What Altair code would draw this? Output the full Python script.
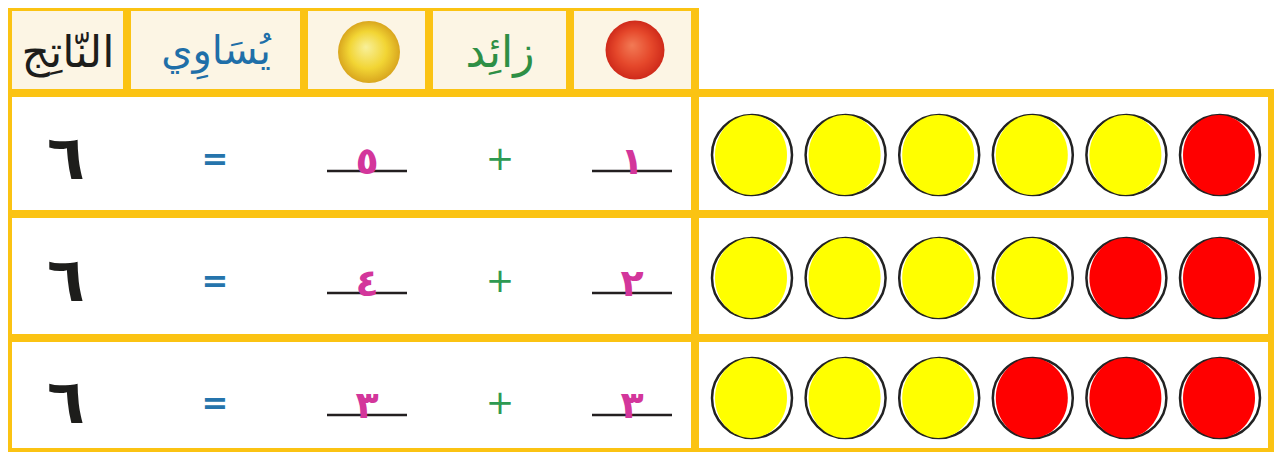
import altair as alt
import pandas as pd

# ---------------- data ----------------
header_words = ["النّاتِج", "يُسَاوِي", "زائِد"]
first_addends = [1, 2, 3]      # red counters
second_addends = [5, 4, 3]     # yellow counters
totals = [6, 6, 6]
counters_per_row = 6

AR = str.maketrans("0123456789", "٠١٢٣٤٥٦٧٨٩")
def ar(n):
    return str(n).translate(AR)

# ---------------- layout (page pixel units) ----------------
W, H = 1266, 444
XS = alt.Scale(domain=[8, 1274], nice=False, zero=False)
YS = alt.Scale(domain=[8, 452], nice=False, zero=False, reverse=True)

GOLD = "#FBC313"
CREAM = "#FCF5E4"
MAGENTA = "#D3369B"
BLUE = "#2574AC"
GREEN = "#2E9A52"

col_total, col_eq, col_a2, col_plus, col_a1 = 66, 215, 367, 500, 632
row_mid = [160, 282, 404]
row_line = [171, 293, 415]
circle_x0, circle_dx = 752, 93.6
circle_y = [155, 278, 398]

header_cells = [(12, 123), (131, 300), (308, 425), (433, 566), (574, 691)]
row_edges = [(97, 210), (218, 334), (342, 448)]


def X(f):
    return alt.X(f, type="quantitative", scale=XS, axis=None)


def Y(f):
    return alt.Y(f, type="quantitative", scale=YS, axis=None)


# gold frame
gold = pd.DataFrame([
    {"x": 0, "x2": 699, "y": 0, "y2": 97},
    {"x": 0, "x2": 1282, "y": 89, "y2": 460},
])
gold_layer = alt.Chart(gold).mark_rect(color=GOLD, clip=True).encode(
    x=X("x"), x2="x2", y=Y("y"), y2="y2")

hdr = pd.DataFrame([{"x": a, "x2": b, "y": 11, "y2": 89} for a, b in header_cells])
hdr_layer = alt.Chart(hdr).mark_rect(color=CREAM, clip=True).encode(
    x=X("x"), x2="x2", y=Y("y"), y2="y2")

cells = []
for (t, b) in row_edges:
    cells.append({"x": 12, "x2": 691, "y": t, "y2": b})
    cells.append({"x": 699, "x2": 1268, "y": t, "y2": b})
cell_layer = alt.Chart(pd.DataFrame(cells)).mark_rect(color="white", clip=True).encode(
    x=X("x"), x2="x2", y=Y("y"), y2="y2")

# header words
hw = pd.DataFrame([
    {"x": 68, "y": 54, "t": header_words[0], "c": "#1d1d1b", "s": 44},
    {"x": 216, "y": 52, "t": header_words[1], "c": "#1F6FA8", "s": 40},
    {"x": 500, "y": 54, "t": header_words[2], "c": "#2E8F45", "s": 44},
])
hw_layer = alt.Chart(hw).mark_text(font="DejaVu Sans", baseline="middle",
                                   align="center").encode(
    x=X("x"), y=Y("y"), text="t:N", color=alt.Color("c:N", scale=None),
    size=alt.Size("s:Q", scale=None))

# header counters (gradient balls)
yellow_grad = {"gradient": "radial", "x1": 0.45, "y1": 0.42, "r1": 0.0,
               "x2": 0.5, "y2": 0.5, "r2": 0.5,
               "stops": [{"offset": 0, "color": "#F8F09A"},
                         {"offset": 0.6, "color": "#F2D534"},
                         {"offset": 1, "color": "#D9A61E"}]}
red_grad = {"gradient": "radial", "x1": 0.45, "y1": 0.42, "r1": 0.0,
            "x2": 0.5, "y2": 0.5, "r2": 0.5,
            "stops": [{"offset": 0, "color": "#F27A55"},
                      {"offset": 0.6, "color": "#E5482B"},
                      {"offset": 1, "color": "#CF2A1A"}]}
hb_y = alt.Chart(pd.DataFrame([{"x": 369, "y": 52}])).mark_point(
    shape="circle", filled=True, fill=yellow_grad, size=62 * 62, opacity=1, strokeWidth=0).encode(
    x=X("x"), y=Y("y"))
hb_r = alt.Chart(pd.DataFrame([{"x": 635, "y": 50}])).mark_point(
    shape="circle", filled=True, fill=red_grad, size=59 * 59, opacity=1, strokeWidth=0).encode(
    x=X("x"), y=Y("y"))

# equation rows
totals_df = pd.DataFrame([{"x": col_total, "y": row_mid[i], "t": ar(totals[i])} for i in range(3)])
total_layer = alt.Chart(totals_df).mark_text(font="DejaVu Sans", fontSize=62, fontWeight="bold",
                                             color="#1d1d1b", baseline="middle").encode(
    x=X("x"), y=Y("y"), text="t:N")

eq_df = pd.DataFrame([{"x": col_eq, "y": row_mid[i], "t": "="} for i in range(3)])
eq_layer = alt.Chart(eq_df).mark_text(font="DejaVu Sans", fontSize=32, fontWeight="bold",
                                      color=BLUE, baseline="middle").encode(
    x=X("x"), y=Y("y"), text="t:N")

plus_df = pd.DataFrame([{"x": col_plus, "y": row_mid[i], "t": "+"} for i in range(3)])
plus_layer = alt.Chart(plus_df).mark_text(font="DejaVu Sans", fontSize=34,
                                          color=GREEN, baseline="middle").encode(
    x=X("x"), y=Y("y"), text="t:N")

lines = []
nums = []
for i in range(3):
    for cx, v in ((col_a2, second_addends[i]), (col_a1, first_addends[i])):
        lines.append({"x": cx - 40, "x2": cx + 40, "y": row_line[i]})
        nums.append({"x": cx, "y": row_line[i] + 3, "t": ar(v)})
line_layer = alt.Chart(pd.DataFrame(lines)).mark_rule(color="#231F20", strokeWidth=2.5).encode(
    x=X("x"), x2="x2", y=Y("y"))
num_layer = alt.Chart(pd.DataFrame(nums)).mark_text(font="DejaVu Sans", fontSize=38, fontWeight="bold",
                                                    color=MAGENTA, baseline="alphabetic").encode(
    x=X("x"), y=Y("y"), text="t:N")

# counters
cnt = []
for i in range(3):
    for k in range(counters_per_row):
        col = "#FFFF00" if k < second_addends[i] else "#FF0000"
        cnt.append({"x": circle_x0 + k * circle_dx, "y": circle_y[i], "c": col})
cnt_df = pd.DataFrame(cnt)
outline_layer = alt.Chart(cnt_df).mark_point(shape="circle", filled=True, fill="white",
                                             stroke="#222222", strokeWidth=2.5,
                                             size=80 * 80, opacity=1).encode(
    x=X("x"), y=Y("y"))
ellipse = "M -0.9 0 A 0.9 1 0 1 1 0.9 0 A 0.9 1 0 1 1 -0.9 0 Z"
fill_layer = alt.Chart(cnt_df).mark_point(shape=ellipse, filled=True, size=80 * 80,
                                          strokeWidth=0, opacity=1, xOffset=-1).encode(
    x=X("x"), y=Y("y"), fill=alt.Fill("c:N", scale=None))

chart = alt.layer(
    gold_layer, hdr_layer, cell_layer, hw_layer, hb_y, hb_r,
    total_layer, eq_layer, plus_layer, line_layer, num_layer,
    outline_layer, fill_layer,
).properties(
    width=W, height=H, autosize=alt.AutoSizeParams(type="none"), padding=0,
    background="white",
).configure_view(strokeWidth=0)

chart.save("out.html", embed_options={"renderer": "svg", "actions": False})
